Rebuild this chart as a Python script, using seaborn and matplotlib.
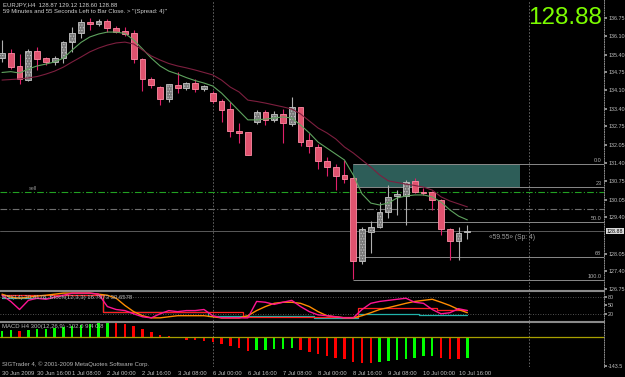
import numpy as np
import pandas as pd
import matplotlib
matplotlib.use("Agg")
import matplotlib.pyplot as plt
import matplotlib.transforms as mtransforms
import seaborn as sns

# ---------------- data ----------------
opens = [135.27, 135.46, 134.98, 134.46, 135.53, 135.27, 135.13, 135.27, 135.87, 136.20,
         136.60, 136.53, 136.64, 136.38, 136.27, 136.20, 135.24, 134.50, 134.20, 133.76,
         134.28, 134.17, 134.35, 134.13, 133.98, 133.69, 133.39, 132.58, 132.54, 132.91,
         133.28, 132.99, 133.21, 132.84, 133.47, 132.25, 131.99, 131.47, 131.25, 130.95,
         130.85, 127.78, 128.85, 129.04, 129.59, 130.18, 130.18, 130.73, 130.33, 130.33,
         130.03, 128.96, 128.52, 128.87]
highs = [135.94, 135.61, 135.42, 135.61, 135.68, 135.31, 135.35, 135.90, 136.42, 136.70,
         136.75, 136.72, 136.72, 136.46, 136.42, 136.31, 135.27, 134.57, 134.24, 134.33,
         134.76, 134.39, 134.50, 134.28, 134.05, 133.76, 133.65, 132.88, 132.54, 133.36,
         133.36, 133.32, 133.39, 133.83, 133.47, 132.51, 132.10, 131.62, 131.36, 131.51,
         130.88, 129.04, 129.26, 129.96, 130.59, 130.40, 130.77, 130.85, 130.48, 130.36,
         130.07, 129.00, 129.04, 129.12]
lows = [135.13, 134.87, 134.31, 134.42, 134.83, 135.02, 135.02, 135.09, 135.50, 136.02,
        136.31, 136.46, 136.24, 136.20, 136.09, 135.09, 134.05, 134.17, 133.54, 133.65,
        133.98, 134.09, 134.02, 134.05, 133.61, 132.91, 132.36, 132.14, 131.70, 132.84,
        132.80, 132.91, 132.14, 132.77, 132.03, 131.77, 131.18, 130.92, 130.40, 130.66,
        127.12, 127.67, 128.08, 129.00, 129.38, 129.49, 129.12, 130.29, 130.22, 129.67,
        128.74, 127.82, 127.82, 128.60]
closes = [135.46, 134.94, 134.50, 135.53, 135.24, 135.13, 135.27, 135.87, 136.20, 136.60,
          136.53, 136.64, 136.38, 136.24, 136.16, 135.24, 134.50, 134.28, 133.76, 134.31,
          134.17, 134.35, 134.13, 134.24, 133.69, 133.36, 132.58, 132.51, 131.70, 133.28,
          132.99, 133.21, 132.88, 133.47, 132.18, 132.03, 131.47, 131.25, 130.92, 130.81,
          127.78, 128.96, 129.04, 129.59, 130.14, 130.25, 130.70, 130.33, 130.29, 130.03,
          128.96, 128.52, 128.82, 128.88]

ma_fast = [134.74, 134.77, 134.72, 134.87, 134.98, 135.05, 135.13, 135.27, 135.57, 135.85,
           136.05, 136.16, 136.23, 136.23, 136.18, 135.94, 135.61, 135.27, 134.98, 134.79,
           134.68, 134.55, 134.44, 134.35, 134.24, 133.98, 133.65, 133.32, 132.99, 132.99,
           133.02, 133.06, 133.10, 133.06, 132.80, 132.51, 132.17, 131.95, 131.73, 131.51,
           130.96, 130.26, 129.92, 129.85, 129.92, 130.11, 130.18, 130.22, 130.22, 130.15,
           129.96, 129.67, 129.44, 129.30]
ma_slow = [134.46, 134.48, 134.50, 134.54, 134.59, 134.68, 134.79, 134.94, 135.13, 135.31,
           135.50, 135.64, 135.75, 135.83, 135.86, 135.79, 135.57, 135.35, 135.20, 135.07,
           134.98, 134.91, 134.83, 134.74, 134.65, 134.46, 134.20, 134.02, 133.72, 133.67,
           133.61, 133.54, 133.47, 133.39, 133.21, 132.95, 132.69, 132.51, 132.29, 131.99,
           131.77, 131.51, 131.25, 130.96, 130.74, 130.68, 130.62, 130.57, 130.51, 130.40,
           130.15, 130.00, 129.89, 129.78]

osc_pink = [88, 65, 35, 69, 77, 73, 81, 88, 96, 96, 96, 92, 46, 35, 31, 19, 8, 4, 19, 31,
            27, 31, 31, 35, 12, 4, 4, 4, 4, 65, 62, 54, 62, 69, 46, 27, 15, 12, 8, 4,
            4, 35, 58, 65, 69, 73, 77, 62, 58, 35, 19, 23, 38, 31]
osc_orange = [92, 81, 77, 81, 85, 88, 92, 96, 96, 96, 96, 92, 88, 77, 50, 27, 12, 4, 4, 8,
              12, 12, 12, 12, 8, 4, 4, 4, 12, 31, 46, 58, 62, 62, 58, 46, 27, 12, 8, 4,
              4, 12, 23, 35, 42, 50, 58, 65, 69, 73, 62, 50, 35, 23]
osc_teal = [77, 77, 77, 77, 77, 77, 88, 88, 88, 88, 88, 88, 27, 27, 27, 27, 27, 27, 27, 27,
            27, 27, 27, 27, 12, 12, 12, 12, 12, 12, 12, 12, 12, 12, 12, 12, 2, 2, 2, 2,
            2, 19, 19, 19, 19, 19, 19, 19, 15, 15, 15, 15, 15, 15]
osc_red = [90, 90, 90, 90, 90, 90, 90, 90, 90, 90, 90, 90, 27, 27, 27, 27, 27, 27, 27, 27,
           27, 27, 27, 27, 27, 27, 27, 27, 6, 6, 6, 6, 6, 6, 6, 6, 6, 6, 6, 6,
           6, 42, 42, 42, 42, 42, 42, 42, 42, 42, 35, 35, 35, 35]

macd_hist = [29, 34, 28, 34, 39, 40, 42, 46, 51, 59, 64, 70, 71, 67, 62, 54, 39, 23, 7, 2,
             -6, -15, -18, -23, -27, -34, -47, -55, -72, -67, -64, -60, -58, -55, -64, -75,
             -85, -96, -104, -109, -124, -127, -128, -122, -118, -113, -110, -104, -96, -95,
             -104, -109, -111, -102]

time_label_idx = [0, 4, 8, 12, 16, 20, 24, 28, 32, 36, 40, 44, 48, 52]
time_labels = ["30 Jun 2009", "30 Jun 16:00", "1 Jul 08:00", "2 Jul 00:00", "2 Jul 16:00",
               "3 Jul 08:00", "6 Jul 00:00", "6 Jul 16:00", "7 Jul 08:00", "8 Jul 00:00",
               "8 Jul 16:00", "9 Jul 08:00", "10 Jul 00:00", "10 Jul 16:00"]
price_ticks = [136.75, 136.10, 135.40, 134.75, 134.10, 133.40, 132.75, 132.05, 131.40,
               130.75, 130.05, 129.40, 128.05, 127.40, 126.75]
separator_idx = [24, 60]
fib_start, fib_end = 40, 59
fib_prices = [131.36, 130.51, 129.22, 127.93, 127.08]
fib_labels = ["0.0", "23", "50.0", "68", "100.0"]
sell_level = 130.33
buy_level = 129.70
bid = 128.88
osc_ticks = [80, 50, 20]
osc_levels = [80, 20]
macd_min = -143.5

# ---------------- style ----------------
sns.set_theme(style="dark", rc={
    "axes.facecolor": "black", "figure.facecolor": "black",
    "axes.edgecolor": "#808080", "text.color": "#c8c8c8",
    "xtick.color": "#c8c8c8", "ytick.color": "#c8c8c8",
    "axes.grid": False, "hatch.linewidth": 0.5,
})
plt.rcParams['font.family'] = ['Liberation Sans', 'DejaVu Sans']

W, H = 625, 377
fig = plt.figure(figsize=(W / 100, H / 100), dpi=100)


def rect(x0, y0, x1, y1):
    return [x0 / W, 1 - y1 / H, (x1 - x0) / W, (y1 - y0) / H]


ax = fig.add_axes(rect(0, 0, 604, 290))
ax2 = fig.add_axes(rect(0, 291, 604, 321), sharex=ax)
ax3 = fig.add_axes(rect(0, 322, 604, 367), sharex=ax)

df = pd.DataFrame({"i": np.arange(len(opens)), "o": opens, "h": highs, "l": lows, "c": closes,
                   "fast": ma_fast, "slow": ma_slow})
up = df.c >= df.o
dn = ~up
bot = np.minimum(df.o, df.c)
hgt = (df.c - df.o).abs()

# wicks
ax.vlines(df.i[up], df.l[up], df.h[up], color="#b0b0b0", lw=0.8, zorder=2)
ax.vlines(df.i[dn], df.l[dn], df.h[dn], color="#e0206a", lw=0.8, zorder=2)
# bodies
ax.bar(df.i[up], hgt[up], bottom=bot[up], width=0.66, color="#7a7a7a",
       edgecolor="#c4c4c4", hatch="......", lw=0.6, zorder=3)
ax.bar(df.i[dn], hgt[dn], bottom=bot[dn], width=0.66, color="#e0536f",
       edgecolor="#ff8ca4", lw=0.6, zorder=3)

sns.lineplot(data=df, x="i", y="fast", ax=ax, color="#5fa35f", lw=0.8, legend=False, zorder=4)
sns.lineplot(data=df, x="i", y="slow", ax=ax, color="#7d1f3f", lw=0.8, legend=False, zorder=4)

xmin, xmax = -0.228, 68.56
ax.set_xlim(xmin, xmax)
ax.set_ylim(126.713, 137.414)

# fibonacci object
ax.fill_between([fib_start, fib_end], fib_prices[1], fib_prices[0], color="#2d5d58", zorder=1,
                lw=0)
for p, lab in zip(fib_prices, fib_labels):
    ax.hlines(p, fib_start, xmax, color="#8a8a8a", lw=0.7, zorder=1)
    ax.text(xmax - 0.3, p + 0.04, lab, ha="right", va="bottom", fontsize=4.0, color="#b0b0b0")

# level lines
ax.axhline(sell_level, color="#22a022", lw=0.8, ls=(0, (6, 2, 1, 2)), zorder=1)
ax.axhline(buy_level, color="#6e6e6e", lw=0.8, ls=(0, (6, 2, 1, 2)), zorder=1)
ax.axhline(bid, color="#5a5a5a", lw=0.7, zorder=1)
ax.text(3, sell_level + 0.05, "sell", fontsize=4.0, color="#909090", va="bottom")
ax.text(55.5, bid - 0.1, "«59.55» (Sp: 4)", fontsize=4.8, color="#a0a0a0", va="top")

# right price axis
ax.yaxis.tick_right()
ax.set_yticks(price_ticks)
ax.set_yticklabels([f"{p:.2f}" for p in price_ticks])
ax.tick_params(axis="y", labelsize=3.9, length=2, pad=1, color="#a0a0a0", labelcolor="#c0c0c0")
ax.tick_params(axis="x", labelbottom=False, length=0)
trans = mtransforms.blended_transform_factory(ax.transAxes, ax.transData)
ax.text(1.0045, bid, f"{bid:.2f}", transform=trans, fontsize=3.9, color="black", va="center",
        ha="left", bbox=dict(facecolor="#d8d8d8", edgecolor="none", pad=0.5))
ax.set_xlabel("")
ax.set_ylabel("")

# oscillator panel
odf = pd.DataFrame({"i": np.arange(len(osc_pink)), "pink": osc_pink, "orange": osc_orange,
                    "teal": osc_teal, "red": osc_red})
for lv in osc_levels:
    ax2.axhline(lv, color="#6a6a6a", lw=0.6, ls=(0, (1, 2)))
sns.lineplot(data=odf, x="i", y="teal", ax=ax2, color="#20b2aa", lw=0.9, legend=False,
             drawstyle="steps-mid")
sns.lineplot(data=odf, x="i", y="red", ax=ax2, color="#ff2020", lw=0.9, legend=False,
             drawstyle="steps-mid")
sns.lineplot(data=odf, x="i", y="orange", ax=ax2, color="#ff8c00", lw=1.0, legend=False)
sns.lineplot(data=odf, x="i", y="pink", ax=ax2, color="#ff1493", lw=1.0, legend=False)
ax2.set_ylim(-7.7, 103.8)
ax2.yaxis.tick_right()
ax2.set_yticks(osc_ticks)
ax2.set_yticklabels([str(t) for t in osc_ticks])
ax2.tick_params(axis="y", labelsize=3.9, length=2, pad=1, color="#a0a0a0", labelcolor="#c0c0c0")
ax2.tick_params(axis="x", labelbottom=False, length=0)
ax2.text(0.004, 0.80, "RSI(14) 30.4178  Stoch(12,3,3) 16.7973 30.6578", transform=ax2.transAxes,
         fontsize=4.3, color="#b8b8b8", va="center")
ax2.set_xlabel("")
ax2.set_ylabel("")

# MACD panel
mdf = pd.DataFrame({"i": np.arange(len(macd_hist)), "v": macd_hist})
prev = mdf.v.shift(1).fillna(mdf.v.iloc[0] - 1)
colors = np.where(mdf.v >= prev, "#00ff00", "#ff0000")
ax3.bar(mdf.i, mdf.v, width=0.28, color=colors, lw=0)
ax3.axhline(0, color="#a8a000", lw=0.9)
ax3.set_ylim(-148.5, 72)
ax3.yaxis.tick_right()
ax3.set_yticks([macd_min])
ax3.set_yticklabels([f"{macd_min:.1f}"])
ax3.tick_params(axis="y", labelsize=3.9, length=2, pad=1, color="#a0a0a0", labelcolor="#c0c0c0")
ax3.text(0.004, 0.90, "MACD H4 300(12,26,9) -102.0 9.4 0.8", transform=ax3.transAxes,
         fontsize=4.3, color="#b8b8b8", va="center")
ax3.text(0.004, 0.06, "SIGTrader 4, © 2001-2009 MetaQuotes Software Corp.", transform=ax3.transAxes,
         fontsize=4.3, color="#b8b8b8", va="center")
ax3.set_xticks(time_label_idx)
ax3.set_xticklabels(time_labels, ha="left")
ax3.tick_params(axis="x", labelsize=4.2, length=2, pad=1, color="#a0a0a0", labelcolor="#c0c0c0")
ax3.set_xlabel("")
ax3.set_ylabel("")

for a in (ax, ax2, ax3):
    for s in separator_idx:
        a.axvline(s, color="#707070", lw=0.6, ls=(0, (2, 2)), zorder=0)
    a.spines["left"].set_visible(False)
    a.spines["right"].set_color("#8a8a8a")
    a.spines["right"].set_linestyle((0, (1, 1.5)))
    a.spines["right"].set_linewidth(0.7)
    a.spines["top"].set_color("#8a8a8a")
    a.spines["bottom"].set_color("#8a8a8a")
    a.spines["top"].set_linewidth(0.8)
    a.spines["bottom"].set_linewidth(0.8)
ax.spines["top"].set_visible(False)
ax3.spines["bottom"].set_visible(False)
ax.set_xlim(xmin, xmax)

# header texts
fig.text(3 / W, 1 - 4.5 / H, "EURJPY,H4  128.87 129.12 128.60 128.88", fontsize=4.3,
         color="#d0d0d0", va="center")
fig.text(3 / W, 1 - 12 / H, "59 Minutes and 55 Seconds Left to Bar Close. > ''(Spread: 4)''",
         fontsize=4.3, color="#d0d0d0", va="center")
fig.text(602 / W, 1 - 18 / H, "128.88", fontsize=17.5, color="#7cfc00", ha="right", va="center")

fig.savefig("out.png", dpi=100, facecolor="black")
